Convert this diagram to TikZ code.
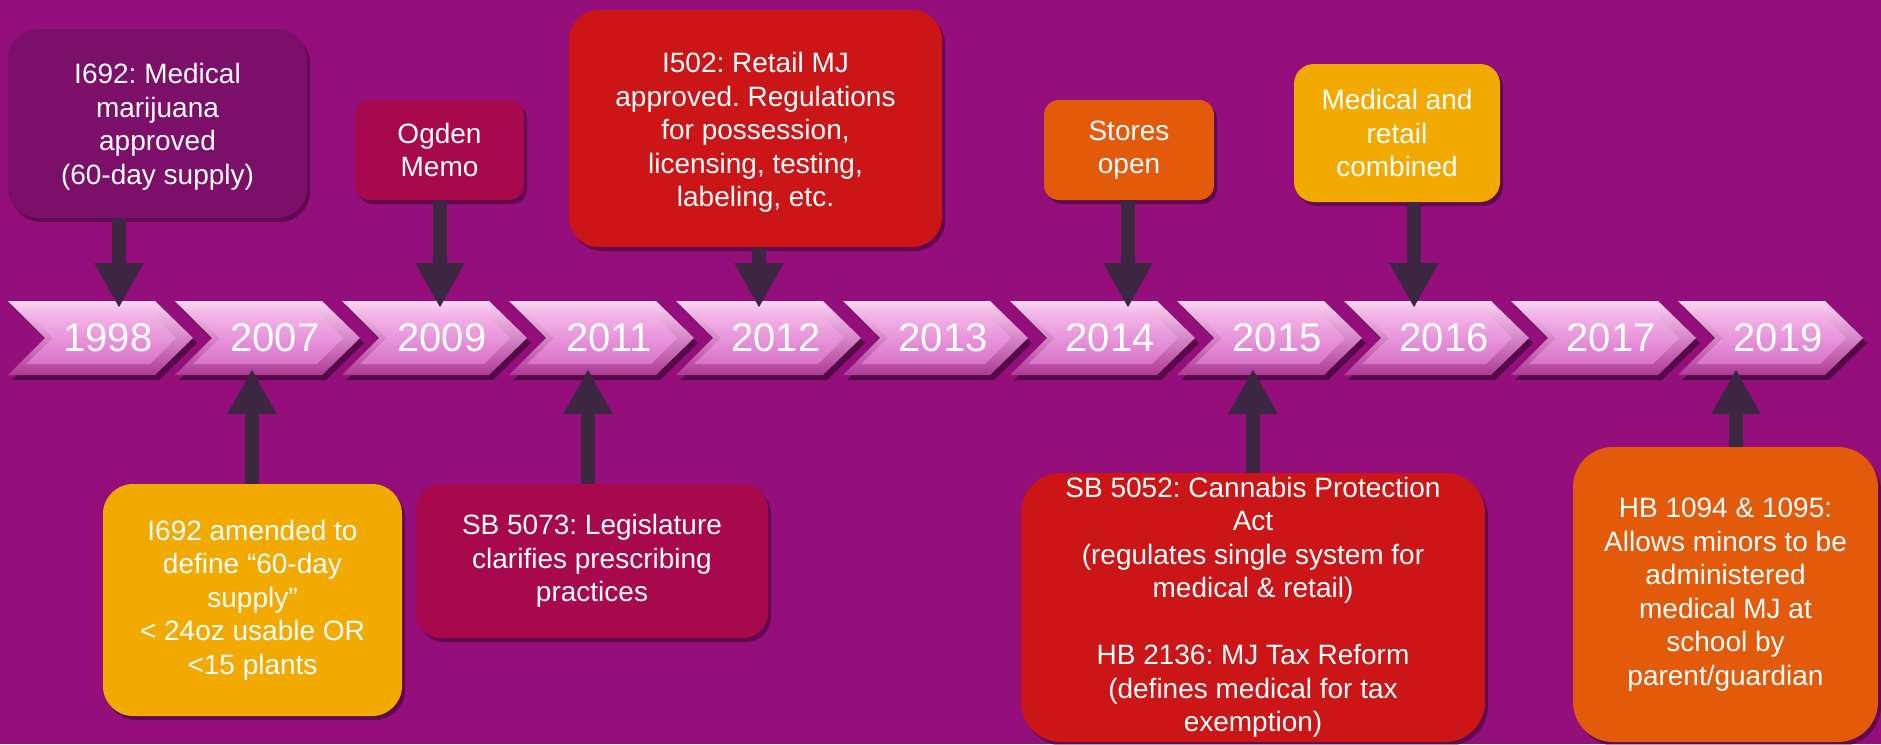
\documentclass[tikz,border=0pt]{standalone}
\usepackage{fontspec}
\setmainfont{Liberation Sans}
\frenchspacing
\usetikzlibrary{arrows.meta,shadows}
\definecolor{bg}{HTML}{940F7C}
\definecolor{arrowc}{HTML}{3C2641}
\definecolor{cpurple}{HTML}{7C0F69}
\definecolor{ccrimson}{HTML}{A8084C}
\definecolor{cred}{HTML}{CC1517}
\definecolor{corange}{HTML}{E35A0B}
\definecolor{cgold}{HTML}{F2AA00}
\definecolor{chevtop}{HTML}{FBD3F4}
\definecolor{chevbot}{HTML}{AE3A96}
\definecolor{facetop}{HTML}{F6B8E9}
\definecolor{facebot}{HTML}{D872CA}
\begin{document}
\begin{tikzpicture}[x=1pt,y=-1pt,
  evbox/.style={rectangle, rounded corners=#1, inner sep=0pt, align=center, text=white,
    font=\fontsize{28}{33.5}\selectfont,
    drop shadow={shadow xshift=3pt, shadow yshift=-4pt, fill=black, opacity=0.35}},
  evbox/.default=30pt,
  yr/.style={inner sep=0pt, text=white, font=\fontsize{40}{42}\selectfont},
  arr/.style={draw=arrowc, line width=14pt, -{Triangle[width=46pt,length=45pt]}}]
\fill[bg] (0,0) rectangle (1881,744);
\path[use as bounding box] (0,0) rectangle (1881,744);
% chevrons
\foreach \i/\yy in {0/1998,1/2007,2/2009,3/2011,4/2012,5/2013,6/2014,7/2015,8/2016,9/2017,10/2019}{
  \pgfmathsetmacro\L{8+167*\i}
  \fill[black!70!bg, opacity=0.6] (\L+4,306) -- (\L+151,306) -- (\L+189,343) -- (\L+151,380) -- (\L+4,380) -- (\L+41,343) -- cycle;
  \shade[top color=chevtop, bottom color=chevbot] (\L,301) -- (\L+147,301) -- (\L+185,338) -- (\L+147,375) -- (\L,375) -- (\L+37,338) -- cycle;
  \shade[top color=facetop, bottom color=facebot] (\L+18,312) -- (\L+142,312) -- (\L+168,338) -- (\L+142,364) -- (\L+18,364) -- (\L+45,338) -- cycle;
  \node[yr] (c\yy) at (\L+100,338) {\yy};
}
% event boxes
\node[evbox, fill=cpurple, minimum width=299pt, minimum height=189pt] (b1998) at (157.5,123.5)
  {\rule{0pt}{27pt}I692: Medical\\marijuana\\approved\\(60-day supply)};
\node[evbox=15pt, fill=ccrimson, minimum width=169pt, minimum height=100pt] (b2009) at (439.5,150)
  {Ogden\\Memo};
\node[evbox, fill=cred, minimum width=373pt, minimum height=237pt] (b2012) at (755.5,128.5)
  {\rule{0pt}{28pt}I502: Retail MJ\\approved. Regulations\\for possession,\\licensing, testing,\\labeling, etc.};
\node[evbox=15pt, fill=corange, minimum width=170pt, minimum height=100pt] (b2014) at (1129,150)
  {Stores\\open};
\node[evbox=20pt, fill=cgold, minimum width=206pt, minimum height=138pt] (b2016) at (1397,133)
  {Medical and\\retail\\combined};
\node[evbox, fill=cgold, minimum width=299pt, minimum height=232pt] (b2007) at (252.5,600)
  {I692 amended to\\define “60-day\\supply”\\< 24oz usable OR\\<15 plants};
\node[evbox=25pt, fill=ccrimson, minimum width=352pt, minimum height=154pt] (b2011) at (592,561)
  {SB 5073: Legislature\\clarifies prescribing\\practices};
\node[evbox=40pt, fill=cred, minimum width=464pt, minimum height=269pt] (b2015) at (1253,607.5)
  {SB 5052: Cannabis Protection\\Act\\(regulates single system for\\medical \& retail)\\[33.5pt]HB 2136: MJ Tax Reform\\(defines medical for tax\\exemption)};
\node[evbox=40pt, fill=corange, minimum width=305pt, minimum height=295pt] (b2019) at (1725.5,594.5)
  {HB 1094 \& 1095:\\Allows minors to be\\administered\\medical MJ at\\school by\\parent/guardian};
% arrow tips on the timeline
\coordinate (t1998) at (119,308);
\coordinate (t2009) at (440,308);
\coordinate (t2012) at (759,308);
\coordinate (t2014) at (1128,308);
\coordinate (t2016) at (1414,308);
\coordinate (t2007) at (252,369);
\coordinate (t2011) at (588,369);
\coordinate (t2015) at (1253,369);
\coordinate (t2019) at (1736,369);
\foreach \yy in {1998,2009,2012,2014,2016}{
  \draw[arr] (b\yy.south -| t\yy) -- (t\yy);
}
\foreach \yy in {2007,2011,2015,2019}{
  \draw[arr] (b\yy.north -| t\yy) -- (t\yy);
}
\end{tikzpicture}
\end{document}
